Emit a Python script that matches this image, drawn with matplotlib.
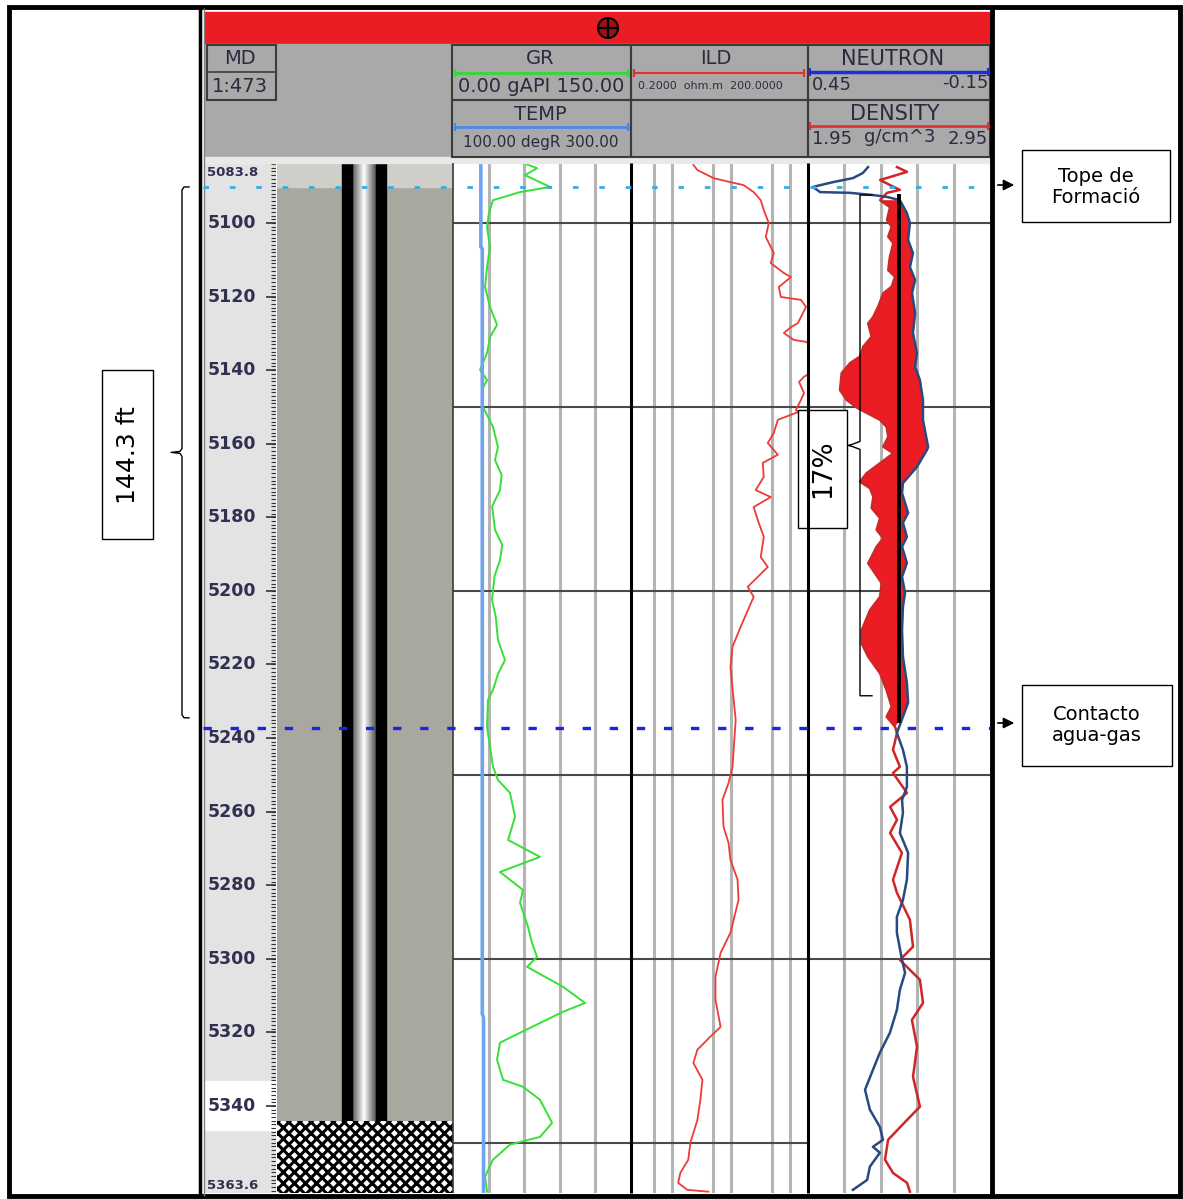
import numpy as np
import matplotlib.pyplot as plt
from matplotlib.patches import Rectangle, Circle

plt.rcParams['font.family'] = ['DejaVu Sans']
plt.rcParams['hatch.linewidth'] = 2.2
plt.rcParams['lines.scale_dashes'] = False

W, H = 1183, 1199
MD_TOP, MD_BASE = 5083.8, 5363.6
ROW_TOP, ROW_BASE = 163.4, 1192.8      # pixel rows spanned by the depth window

TOPE = 5090.2          # tope de formacion
GWC = 5237.2           # contacto agua-gas
NET_GAS = 144.3        # ft, espesor marcado
POR_TOP, POR_BASE = 5092.4, 5228.5
NPHI_CUT = 0.15
CUT_TOP, CUT_BASE = 5092.0, 5236.0
CASING_SHOE = 5344.0

depth_labels = [5100, 5120, 5140, 5160, 5180, 5200, 5220, 5240, 5260, 5280, 5300, 5320, 5340]
grid_md = [5100, 5150, 5200, 5250, 5300, 5350]

# GR (gAPI)
gr_md = [5083.7, 5085.1, 5087.0, 5090.2, 5091.6, 5093.8, 5097.3, 5101.1, 5106.5, 5112.0,
         5117.4, 5122.8, 5127.7, 5131.0, 5135.3, 5139.9, 5142.7, 5145.4, 5150.0, 5155.4,
         5160.9, 5164.4, 5168.5, 5172.6, 5177.0, 5183.4, 5187.5, 5191.6, 5196.0, 5202.4,
         5207.0, 5213.3, 5218.8, 5222.5, 5226.9, 5229.6, 5237.0, 5247.8, 5251.4, 5254.9,
         5261.4, 5267.7, 5272.3, 5276.4, 5281.3, 5284.8, 5291.3, 5295.7, 5299.5, 5302.2,
         5307.6, 5312.0, 5314.4, 5320.1, 5322.8, 5327.4, 5332.9, 5334.8, 5338.3, 5344.6,
         5348.4, 5350.5, 5354.6, 5359.2, 5363.3]
gr_api = [59.0, 70.8, 60.7, 81.8, 56.5, 33.7, 30.3, 28.7, 31.2, 28.7,
          27.0, 31.2, 37.1, 31.2, 28.7, 22.8, 28.7, 24.4, 25.3, 33.7,
          37.9, 35.4, 41.0, 39.6, 33.0, 35.4, 41.5, 39.6, 35.0, 32.9,
          36.0, 37.9, 43.8, 38.0, 33.7, 29.5, 28.7, 33.7, 37.9, 48.0,
          52.3, 46.4, 73.3, 39.6, 59.0, 56.5, 63.2, 66.6, 70.8, 62.4,
          92.7, 111.3, 92.7, 56.5, 39.6, 37.1, 42.2, 59.0, 73.3, 83.5,
          73.3, 48.0, 33.7, 27.0, 28.7]

# TEMP (degR)
temp_md = [5083.8, 5106.5, 5107.0, 5315.0, 5316.0, 5363.6]
temp_degr = [131.3, 131.3, 132.9, 132.9, 134.3, 134.3]

# ILD (ohm.m)
ild_md = [5084.2, 5085.6, 5087.8, 5088.9, 5089.7, 5091.6, 5093.8, 5096.5, 5100.0, 5103.8,
          5108.2, 5110.9, 5113.6, 5114.7, 5117.4, 5120.1, 5120.9, 5122.8, 5127.2, 5128.3,
          5129.9, 5131.8, 5132.3, 5134.0, 5140.0, 5141.8, 5143.2, 5146.2, 5148.1, 5150.8,
          5151.4, 5153.5, 5157.1, 5159.8, 5163.0, 5165.2, 5169.0, 5172.6, 5174.5, 5177.2,
          5180.7, 5185.3, 5190.8, 5193.5, 5198.9, 5201.6, 5209.8, 5215.2, 5220.7, 5229.6,
          5235.1, 5247.8, 5252.2, 5256.8, 5264.1, 5268.5, 5273.1, 5278.5, 5284.0, 5292.9,
          5298.4, 5304.9, 5311.1, 5318.5, 5321.2, 5324.7, 5328.3, 5332.9, 5338.3, 5343.8,
          5350.0, 5354.6, 5358.2, 5360.9, 5362.8, 5363.3]
ild_ohmm = [2.28, 2.67, 5.0, 9.7, 16.2, 24.0, 31.6, 35.6, 43.3, 38.5,
            52.6, 46.8, 78.0, 102.6, 64.0, 69.3, 152.0, 185.0, 135.0, 102.6,
            78.0, 115.0, 185.0, 260.0, 260.0, 171.0, 141.0, 171.0, 152.0, 125.0,
            135.0, 61.6, 52.6, 41.6, 61.6, 34.2, 35.6, 26.0, 46.8, 24.0,
            28.1, 35.6, 31.6, 41.6, 19.0, 24.0, 14.4, 10.5, 9.7, 11.0,
            11.9, 10.5, 9.0, 7.1, 7.4, 9.0, 9.7, 12.8, 13.3, 9.7,
            6.6, 5.4, 5.4, 6.6, 4.4, 2.67, 2.28, 3.25, 3.0, 2.67,
            2.03, 1.87, 1.37, 1.26, 1.8, 4.1]

# NEUTRON (v/v)
nphi_md = [5084.8, 5086.4, 5087.8, 5088.9, 5090.2, 5091.6, 5091.8, 5092.4, 5092.9, 5093.8,
           5097.3, 5100.0, 5104.6, 5108.2, 5112.0, 5115.5, 5119.0, 5124.5, 5129.9, 5135.3,
           5139.1, 5142.7, 5148.1, 5153.5, 5160.9, 5161.7, 5166.3, 5170.7, 5173.4, 5178.8,
           5181.5, 5185.3, 5188.0, 5192.4, 5196.2, 5200.5, 5204.3, 5210.6, 5217.9, 5225.0,
           5230.4, 5234.2, 5238.6, 5243.2, 5247.8, 5253.3, 5256.8, 5260.3, 5265.8, 5271.2,
           5278.5, 5284.0, 5288.6, 5292.9, 5300.3, 5303.8, 5308.4, 5313.9, 5320.1, 5325.5,
           5330.2, 5335.6, 5341.0, 5345.7, 5349.2, 5351.1, 5352.7, 5356.5, 5360.1, 5362.8]
nphi = [0.252, 0.269, 0.302, 0.368, 0.434, 0.410, 0.312, 0.236, 0.190, 0.147,
        0.124, 0.114, 0.120, 0.104, 0.114, 0.097, 0.107, 0.097, 0.104, 0.091,
        0.097, 0.081, 0.071, 0.071, 0.054, 0.058, 0.091, 0.137, 0.140, 0.120,
        0.137, 0.124, 0.140, 0.124, 0.140, 0.130, 0.137, 0.140, 0.137, 0.124,
        0.120, 0.137, 0.157, 0.137, 0.124, 0.124, 0.140, 0.137, 0.147, 0.120,
        0.124, 0.137, 0.157, 0.157, 0.140, 0.130, 0.147, 0.157, 0.180, 0.213,
        0.236, 0.262, 0.246, 0.213, 0.203, 0.236, 0.213, 0.246, 0.255, 0.302]

# DENSITY (g/cm3)
rhob_md = [5084.8, 5086.1, 5087.5, 5088.3, 5089.7, 5091.0, 5091.8, 5093.8, 5095.7, 5099.2,
           5101.0, 5103.7, 5105.5, 5109.2, 5112.8, 5114.6, 5117.3, 5119.1, 5122.7, 5125.5,
           5127.3, 5130.9, 5133.6, 5136.3, 5138.1, 5140.8, 5145.4, 5148.1, 5150.4, 5153.5,
           5155.4, 5158.1, 5160.8, 5162.6, 5165.3, 5168.0, 5170.3, 5172.1, 5174.4, 5177.5,
           5180.2, 5183.4, 5185.7, 5188.0, 5192.5, 5195.2, 5197.9, 5201.6, 5205.2, 5210.7,
           5214.3, 5217.9, 5222.4, 5227.0, 5231.5, 5234.2, 5236.9, 5238.6, 5243.2, 5247.8,
           5249.5, 5254.9, 5258.7, 5262.2, 5265.8, 5271.2, 5278.5, 5282.1, 5289.4, 5296.7,
           5300.3, 5305.7, 5312.0, 5316.6, 5323.9, 5332.1, 5340.2, 5343.8, 5349.2, 5354.6,
           5358.2, 5360.9, 5363.3]
rhob = [2.439, 2.494, 2.401, 2.346, 2.401, 2.455, 2.384, 2.346, 2.401, 2.384,
        2.410, 2.391, 2.419, 2.400, 2.391, 2.428, 2.410, 2.364, 2.336, 2.309,
        2.281, 2.300, 2.254, 2.236, 2.181, 2.135, 2.126, 2.163, 2.226, 2.346,
        2.382, 2.391, 2.364, 2.419, 2.346, 2.272, 2.236, 2.291, 2.309, 2.300,
        2.346, 2.327, 2.364, 2.327, 2.281, 2.318, 2.355, 2.346, 2.291, 2.245,
        2.245, 2.281, 2.346, 2.382, 2.410, 2.382, 2.428, 2.439, 2.417, 2.455,
        2.417, 2.494, 2.401, 2.439, 2.401, 2.466, 2.417, 2.439, 2.510, 2.527,
        2.455, 2.565, 2.582, 2.521, 2.549, 2.527, 2.565, 2.494, 2.390, 2.373,
        2.417, 2.494, 2.510]

HDR = '#2b2b40'
GRID_V = '#b4b4b4'
GRID_H = '#4a4a4a'


def row(md):
    return ROW_TOP + (md - MD_TOP) * (ROW_BASE - ROW_TOP) / (MD_BASE - MD_TOP)


def nphi_on_rhob(n):
    # neutron 0.45 .. -0.15 shares the track with density 1.95 .. 2.95
    return 1.95 + (0.45 - np.asarray(n)) / 0.6


fig = plt.figure(figsize=(W / 100, H / 100), dpi=100)


def track(x0, x1, face='white'):
    ax = fig.add_axes([x0 / W, 1 - ROW_BASE / H, (x1 - x0) / W, (ROW_BASE - ROW_TOP) / H])
    ax.set_ylim(MD_BASE, MD_TOP)
    ax.set_facecolor(face)
    ax.set_xticks([])
    ax.set_yticks([])
    for s in ax.spines.values():
        s.set_visible(False)
    return ax


def grid(ax, xs, rows):
    for v in xs:
        ax.axvline(v, color=GRID_V, lw=2.2, zorder=1)
    for d in rows:
        ax.axhline(d, color=GRID_H, lw=1.5, zorder=1)


# depth track
dax = track(205, 276, '#e3e3e3')
dax.set_xlim(0, 71)
dax.axhspan(5333.3, 5346.4, color='white', zorder=0)
dax.hlines(np.arange(5084, 5364), 66, 71, color='#333333', lw=0.8)
dax.hlines(depth_labels, 61, 71, color='#333333', lw=1.2)
for d in depth_labels:
    dax.text(3, d, str(d), ha='left', va='center', fontsize=12.5,
             fontweight='bold', color='#303050')
dax.text(2, MD_TOP + 0.8, f'{MD_TOP:.1f}', ha='left', va='top', fontsize=9.5,
         fontweight='bold', color='#303050')
dax.text(2, MD_BASE - 0.3, f'{MD_BASE:.1f}', ha='left', va='bottom', fontsize=9.5,
         fontweight='bold', color='#303050')

# lithology / casing track
lax = track(277, 453, '#a9a89f')
lax.axhspan(MD_TOP, TOPE, color='#cfcec8', zorder=0)
tube = 1 - np.abs(np.linspace(-1, 1, 48))
lax.imshow(tube[None, :], extent=(75, 99, CASING_SHOE, MD_TOP), cmap='gray',
           vmin=-0.5, vmax=1.0, aspect='auto', zorder=2)
lax.add_patch(Rectangle((65, MD_TOP), 10, CASING_SHOE - MD_TOP, color='black', zorder=3))
lax.add_patch(Rectangle((99, MD_TOP), 10, CASING_SHOE - MD_TOP, color='black', zorder=3))
lax.add_patch(Rectangle((0, CASING_SHOE), 176, MD_BASE - CASING_SHOE, facecolor='white',
                        edgecolor='black', hatch='xxx', lw=0, zorder=3))
lax.set_xlim(0, 176)
lax.set_ylim(MD_BASE, MD_TOP)

# GR / TEMP track
gax = track(453, 631)
gax.set_xlim(0, 150)
grid(gax, [30, 60, 90, 120], grid_md)
gax.plot(gr_api, gr_md, color='#36e036', lw=1.4, zorder=3)
tax = gax.twiny()
tax.set_xlim(100, 300)
tax.axis('off')
tax.plot(temp_degr, temp_md, color='#6ea3f0', lw=2.6)

# ILD track
iax = track(631, 808)
iax.set_xscale('log')
iax.set_xlim(0.2, 200)
iax.set_xticks([])
iax.minorticks_off()
grid(iax, [0.5, 1, 5, 10, 50, 100], grid_md)
iax.plot(ild_ohmm, ild_md, color='#f03a3a', lw=1.3, zorder=3)

# NEUTRON / DENSITY track
nax = track(808, 990)
nax.set_xlim(1.95, 2.95)
grid(nax, [2.15, 2.35, 2.55, 2.75], grid_md[:-1])
r_md, r_v = np.array(rhob_md), np.array(rhob)
n_md, n_v = np.array(nphi_md), np.array(nphi)
rk = (r_md >= 5093.8) & (r_md <= 5236.9)
nk = (n_md >= 5093.8) & (n_md <= 5234.2)
nax.fill(np.concatenate([r_v[rk], nphi_on_rhob(n_v[nk])[::-1]]),
         np.concatenate([r_md[rk], n_md[nk][::-1]]),
         color='#ec1c24', lw=0, zorder=2)
nax.plot(rhob, rhob_md, color='#cf2626', lw=1.8, zorder=3)
n2 = nax.twiny()
n2.set_xlim(0.45, -0.15)
n2.axis('off')
n2.plot(nphi, nphi_md, color='#284a80', lw=1.8, zorder=3)
n2.vlines(NPHI_CUT, CUT_TOP, CUT_BASE, color='black', lw=2.8, zorder=4)

# frames, header and notes drawn in pixel space over everything
ov = fig.add_axes([0, 0, 1, 1])
ov.set_xlim(0, W)
ov.set_ylim(H, 0)
ov.axis('off')
ov.set_zorder(10)

ov.add_patch(Rectangle((205, 12), 785, 32, color='#ec1c24'))
ov.add_patch(Rectangle((205, 44), 785, 114, color='#a9a9a9'))
ov.add_patch(Rectangle((205, 157), 785, 6, color='#e9e9e9'))
ov.add_patch(Circle((608, 28), 10, facecolor='#9a1016', edgecolor='black', lw=1.5))
ov.plot([599, 617], [28, 28], color='black', lw=1.6)
ov.plot([608, 608], [19, 37], color='black', lw=1.6)

for x0, y0, x1, y1 in [(207, 45, 276, 100), (452, 45, 631, 100), (452, 100, 631, 157),
                       (631, 45, 808, 100), (631, 100, 808, 157),
                       (808, 45, 990, 100), (808, 100, 990, 157)]:
    ov.add_patch(Rectangle((x0, y0), x1 - x0, y1 - y0, fill=False, edgecolor='#3c3c3c', lw=1.5))
ov.plot([209, 274], [72, 72], color='#3c3c3c', lw=1.2)

ov.text(240, 59, 'MD', ha='center', va='center', fontsize=14, color=HDR)
ov.text(240, 86, '1:473', ha='center', va='center', fontsize=14, color=HDR)

ov.text(540, 59, 'GR', ha='center', va='center', fontsize=14, color=HDR)
ov.plot([455, 628], [73, 73], color='#35d835', lw=2, marker='|', ms=6, mew=1.5)
ov.text(541, 87, '0.00 gAPI 150.00', ha='center', va='center', fontsize=14, color=HDR)
ov.text(540, 114, 'TEMP', ha='center', va='center', fontsize=14, color=HDR)
ov.plot([455, 628], [127, 127], color='#4d88e8', lw=2, marker='|', ms=6, mew=1.5)
ov.text(541, 142, '100.00 degR 300.00', ha='center', va='center', fontsize=11, color=HDR)

ov.text(716, 59, 'ILD', ha='center', va='center', fontsize=14, color=HDR)
ov.plot([634, 804], [73, 73], color='#e83030', lw=1.5, marker='|', ms=6, mew=1.5)
ov.text(710, 86, '0.2000  ohm.m  200.0000', ha='center', va='center', fontsize=8, color=HDR)

ov.text(893, 59, 'NEUTRON', ha='center', va='center', fontsize=15, color=HDR)
ov.plot([810, 988], [72, 72], color='#1d2fd8', lw=2.5, marker='|', ms=6, mew=1.5)
ov.text(812, 85, '0.45', ha='left', va='center', fontsize=13, color=HDR)
ov.text(989, 83, '-0.15', ha='right', va='center', fontsize=13, color=HDR)
ov.text(895, 114, 'DENSITY', ha='center', va='center', fontsize=15, color=HDR)
ov.plot([810, 988], [126, 126], color='#e03434', lw=2, marker='|', ms=6, mew=1.5)
ov.text(812, 139, '1.95', ha='left', va='center', fontsize=13, color=HDR)
ov.text(900, 137, 'g/cm^3', ha='center', va='center', fontsize=13, color=HDR)
ov.text(988, 139, '2.95', ha='right', va='center', fontsize=13, color=HDR)

# track borders
ov.vlines(453, ROW_TOP, ROW_BASE, color='#3a3a3a', lw=1.2)
ov.vlines([631, 808], ROW_TOP, ROW_BASE, color='black', lw=2.2)
ov.vlines(992, 8, 1196, color='black', lw=3.5)
ov.vlines(200.5, 8, 1196, color='black', lw=2.5)
ov.vlines(204, 8, 1196, color='#808080', lw=1)
ov.add_patch(Rectangle((9, 7), 1171, 1189, fill=False, edgecolor='black', lw=3.5))

# formation top and gas-water contact
ov.hlines(row(TOPE), 203, 990, color='#35ace3', lw=2.0, linestyles=(0, (4, 15)))
ov.hlines(row(GWC), 203, 990, color='#1e22e6', lw=2.4, linestyles=(0, (6, 13.5)))

# net gas bracket
b0, b1 = row(TOPE), row(TOPE + NET_GAS)
bm = (b0 + b1) / 2
ov.plot([189, 184, 182, 182, 180, 171, 180, 182, 182, 184, 189],
        [b0, b0, b0 + 3, bm - 4, bm - 1, bm, bm + 1, bm + 4, b1 - 3, b1, b1],
        color='black', lw=1)
ov.add_patch(Rectangle((102, 370), 51, 169, facecolor='white', edgecolor='black', lw=1))
ov.text(128, 455, f'{NET_GAS} ft', rotation=90, ha='center', va='center', fontsize=18)

# porosity bracket
p0, p1 = row(POR_TOP), row(POR_BASE)
pm = (p0 + p1) / 2
ov.plot([872, 860, 860, 852, 848, 852, 860, 860, 872],
        [p0, p0, pm - 4, pm - 1, pm, pm + 1, pm + 4, p1, p1],
        color='black', lw=1)
ov.add_patch(Rectangle((798, 410), 49, 118, facecolor='white', edgecolor='black', lw=1))
ov.text(823, 469, '17%', rotation=90, ha='center', va='center', fontsize=19)

# side notes
ov.add_patch(Rectangle((1022, 150), 148, 72, facecolor='white', edgecolor='black', lw=1))
ov.text(1096, 187, 'Tope de\nFormació', ha='center', va='center', fontsize=14, linespacing=1.15)
ov.add_patch(Rectangle((1022, 685), 150, 81, facecolor='white', edgecolor='black', lw=1))
ov.text(1097, 725, 'Contacto\nagua-gas', ha='center', va='center', fontsize=14, linespacing=1.15)
for yy in (185, 723):
    ov.annotate('', xy=(1017, yy), xytext=(995, yy),
                arrowprops=dict(arrowstyle='-|>', color='black', lw=1.2, mutation_scale=16))

fig.savefig('out.png', dpi=100)
